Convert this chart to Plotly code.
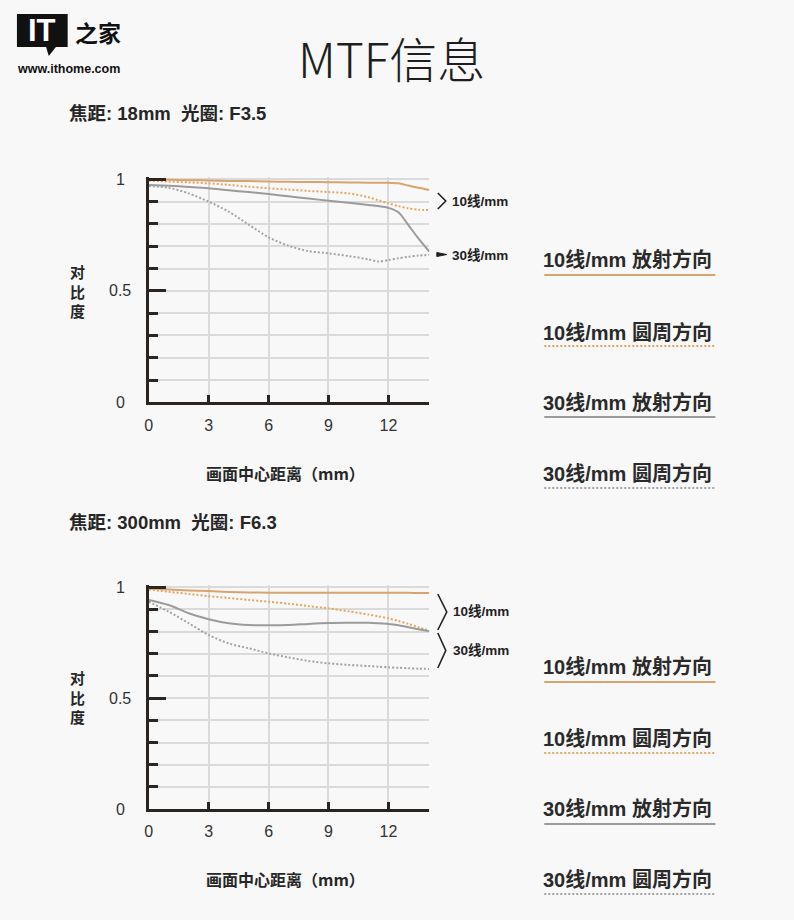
import plotly.graph_objects as go

W, H = 794, 920

# ---------------- data ----------------
x_mm = [0, 1, 2, 3, 4, 5, 6, 7, 8, 9, 10, 11, 11.5, 12, 12.5, 13, 13.5, 14.05]

# 18mm F3.5
w18_10_rad = [1.0, 0.998, 0.996, 0.995, 0.993, 0.992, 0.990, 0.989, 0.988, 0.987, 0.986, 0.985, 0.985, 0.985, 0.982, 0.972, 0.962, 0.952]
w18_10_tan = [0.994, 0.990, 0.986, 0.982, 0.975, 0.967, 0.960, 0.954, 0.948, 0.943, 0.937, 0.920, 0.906, 0.892, 0.880, 0.870, 0.864, 0.862]
w18_30_rad = [0.975, 0.971, 0.966, 0.960, 0.951, 0.943, 0.934, 0.924, 0.914, 0.904, 0.895, 0.885, 0.880, 0.872, 0.852, 0.795, 0.735, 0.676]
w18_30_tan = [0.970, 0.962, 0.937, 0.900, 0.855, 0.797, 0.740, 0.702, 0.678, 0.668, 0.656, 0.641, 0.631, 0.638, 0.646, 0.653, 0.658, 0.661]

# 300mm F6.3
t300_10_rad = [0.995, 0.990, 0.986, 0.983, 0.979, 0.977, 0.976, 0.976, 0.976, 0.976, 0.976, 0.976, 0.976, 0.976, 0.975, 0.975, 0.974, 0.974]
t300_10_tan = [0.990, 0.980, 0.970, 0.960, 0.952, 0.943, 0.935, 0.926, 0.915, 0.905, 0.892, 0.877, 0.869, 0.860, 0.848, 0.835, 0.820, 0.805]
t300_30_rad = [0.943, 0.920, 0.883, 0.856, 0.838, 0.830, 0.829, 0.830, 0.835, 0.839, 0.840, 0.840, 0.838, 0.835, 0.829, 0.820, 0.811, 0.802]
t300_30_tan = [0.935, 0.890, 0.838, 0.785, 0.747, 0.725, 0.702, 0.684, 0.668, 0.657, 0.650, 0.645, 0.642, 0.639, 0.637, 0.635, 0.633, 0.632]

series_names = ["10线/mm 放射方向", "10线/mm 圆周方向", "30线/mm 放射方向", "30线/mm 圆周方向"]
x_tick_vals = [0, 3, 6, 9, 12, 14.05]
x_tick_text = ["0", "3", "6", "9", "12", ""]
y_tick_vals = [0, 0.5, 1]
y_tick_text = ["0", "0.5", "1"]

title_text = "MTF信息"
sub1 = "焦距: 18mm\u00a0\u00a0光圈: F3.5"
sub2 = "焦距: 300mm\u00a0\u00a0光圈: F6.3"
x_title = "画面中心距离（mm）"
y_title = "对<br>比<br>度"
bracket_labels = ["10线/mm", "30线/mm"]

# ---------------- styles ----------------
ORANGE = "#d7a46e"
ORANGE_DOT = "#e2a862"
GRAY = "#9b9b9b"
GRAY_DOT = "#a3a3a3"
AX = "#2b2522"
GRID = "#dadada"
BG = "#f8f8f8"
TXT = "#262626"
FONT = "Liberation Sans, Noto Sans CJK SC"
CJK = "Noto Sans CJK SC"

styles = [
    dict(color=ORANGE, dash="solid", width=2),
    dict(color=ORANGE_DOT, dash="2px,2px", width=2),
    dict(color=GRAY, dash="solid", width=2),
    dict(color=GRAY_DOT, dash="2px,2px", width=2),
]


def px(x):
    return x / W


def py(y):
    return 1 - y / H


fig = go.Figure()

charts = [
    ("x", "y", [w18_10_rad, w18_10_tan, w18_30_rad, w18_30_tan]),
    ("x2", "y2", [t300_10_rad, t300_10_tan, t300_30_rad, t300_30_tan]),
]
for xa, ya, ser in charts:
    for name, vals, st in zip(series_names, ser, styles):
        fig.add_trace(go.Scatter(
            x=x_mm, y=vals, xaxis=xa, yaxis=ya, mode="lines", name=name,
            line=dict(color=st["color"], dash=st["dash"], width=st["width"], shape="spline", smoothing=0.8),
            showlegend=False, hoverinfo="skip"))

# ---------------- axes ----------------
def xaxis_cfg(dom):
    return dict(
        domain=dom, range=[0, 14.05], tickvals=x_tick_vals, ticktext=x_tick_text,
        ticks="inside", ticklen=7, tickwidth=3, tickcolor=AX,
        showline=True, linecolor=AX, linewidth=3,
        showgrid=True, gridcolor=GRID, gridwidth=1.5, zeroline=False,
        tickfont=dict(family=FONT, size=16, color="#333333"),
        ticklabelstandoff=6, fixedrange=True)


def yaxis_cfg(dom, anchor):
    return dict(
        domain=dom, range=[0, 1.01], tickvals=y_tick_vals, ticks="inside", ticklen=17,
        tickwidth=3, tickcolor=AX, showticklabels=False,
        showline=True, linecolor=AX, linewidth=3,
        showgrid=True, gridcolor=GRID, gridwidth=1.5, zeroline=False,
        minor=dict(dtick=0.1, tick0=0, ticks="inside", ticklen=9, tickwidth=3, tickcolor=AX,
                   showgrid=True, gridcolor=GRID, gridwidth=1.5),
        anchor=anchor, fixedrange=True)


xdom = [px(145.5), px(427.5)]
fig.update_layout(
    width=W, height=H, paper_bgcolor=BG, plot_bgcolor=BG,
    margin=dict(l=0, r=0, t=0, b=0),
    xaxis=dict(xaxis_cfg(xdom), anchor="y"),
    yaxis=yaxis_cfg([py(402.3), py(177.1)], "x"),
    xaxis2=dict(xaxis_cfg(xdom), anchor="y2"),
    yaxis2=yaxis_cfg([py(809), py(585.1)], "x2"),
)

ann = []
shapes = []

# y tick labels and y titles (centered)
for ya, ytitle_center in (("y", 291), ("y2", 697)):
    for v, t in zip(y_tick_vals, y_tick_text):
        ann.append(dict(x=px(117), xref="paper", y=v, yref=ya, text=t, showarrow=False,
                        xanchor="center", yanchor="middle",
                        font=dict(family=FONT, size=16, color="#333333")))
    ann.append(dict(x=px(74), xref="paper", y=py(ytitle_center), yref="paper",
                    text=y_title, showarrow=False, xanchor="center", yanchor="middle",
                    font=dict(family=CJK, size=15, color=TXT, weight="bold")))

# x titles
for yc in (473, 879):
    ann.append(dict(x=px(283), y=py(yc), xref="paper", yref="paper", text=x_title, showarrow=False,
                    xanchor="center", yanchor="middle",
                    font=dict(family=CJK, size=16, color=TXT, weight="bold")))

# title and subtitles
ann.append(dict(x=px(389), y=py(57), xref="paper", yref="paper", text=title_text, showarrow=False,
                xanchor="center", yanchor="middle",
                font=dict(family=CJK, size=48, color="#1e1e1e", weight=300)))
for txt, yc in ((sub1, 113), (sub2, 522)):
    ann.append(dict(x=px(63), y=py(yc), xref="paper", yref="paper", text=txt, showarrow=False,
                    xanchor="left", yanchor="middle",
                    font=dict(family=FONT, size=18.5, color=TXT, weight="bold")))

# logo
shapes.append(dict(type="rect", xref="paper", yref="paper", x0=px(13), x1=px(64), y0=py(47), y1=py(14),
                   fillcolor="#111111", line=dict(width=0)))
shapes.append(dict(type="path", xref="paper", yref="paper",
                   path=f"M {px(42)},{py(46)} L {px(53)},{py(46)} L {px(45)},{py(56)} Z",
                   fillcolor="#111111", line=dict(width=0)))
ann.append(dict(x=px(38.5), y=py(31), xref="paper", yref="paper", text="<b>IT</b>", showarrow=False,
                xanchor="center", yanchor="middle",
                font=dict(family="Liberation Sans", size=31, color="#ffffff")))
ann.append(dict(x=px(94), y=py(32), xref="paper", yref="paper", text="之家", showarrow=False,
                xanchor="center", yanchor="middle",
                font=dict(family=CJK, size=23, color="#111111", weight="bold")))
ann.append(dict(x=px(11), y=py(69), xref="paper", yref="paper", text="www.ithome.com", showarrow=False,
                xanchor="left", yanchor="middle",
                font=dict(family="Liberation Sans", size=12.5, color="#111111", weight="bold")))

# right-side bracket labels
def chevron(x0, ytop, ybot, xtip):
    ymid = (ytop + ybot) / 2
    shapes.append(dict(type="path", xref="paper", yref="paper",
                       path=f"M {px(x0)},{py(ytop)} L {px(xtip)},{py(ymid)} L {px(x0)},{py(ybot)}",
                       line=dict(color="#222222", width=1.6)))


# top chart
chevron(436, 193, 209, 444)
shapes.append(dict(type="path", xref="paper", yref="paper",
                   path=f"M {px(435)},{py(252.5)} L {px(445)},{py(254.5)} L {px(435)},{py(256.5)} Z",
                   fillcolor="#222222", line=dict(color="#222222", width=1)))
for lab, yc in zip(bracket_labels, (201, 255)):
    ann.append(dict(x=px(448), y=py(yc), xref="paper", yref="paper", text=lab, showarrow=False,
                    xanchor="left", yanchor="middle",
                    font=dict(family=FONT, size=13.5, color="#222222", weight="bold")))
# bottom chart
chevron(436, 594, 630, 445)
chevron(436, 633, 668, 444)
for lab, yc in zip(bracket_labels, (611, 650)):
    ann.append(dict(x=px(449), y=py(yc), xref="paper", yref="paper", text=lab, showarrow=False,
                    xanchor="left", yanchor="middle",
                    font=dict(family=FONT, size=13.5, color="#222222", weight="bold")))

# legend blocks
legend_blocks = [
    ([259, 332, 402, 473], [275, 346, 417, 488]),
    ([666, 738, 808, 879], [682, 753, 824, 894]),
]
for text_ys, line_ys in legend_blocks:
    for name, st, ty, ly in zip(series_names, styles, text_ys, line_ys):
        ann.append(dict(x=px(540), y=py(ty), xref="paper", yref="paper", text=name, showarrow=False,
                        xanchor="left", yanchor="middle",
                        font=dict(family=FONT, size=20, color="#2a2a2a", weight="bold")))
        shapes.append(dict(type="line", xref="paper", yref="paper", x0=px(543), x1=px(715),
                           y0=py(ly), y1=py(ly),
                           line=dict(color=st["color"], dash=st["dash"], width=2)))

fig.update_layout(annotations=ann, shapes=shapes)
fig.write_html("out.html", config={"displayModeBar": False},
               post_script="document.body.style.margin='0';document.body.style.background='#f8f8f8';")
